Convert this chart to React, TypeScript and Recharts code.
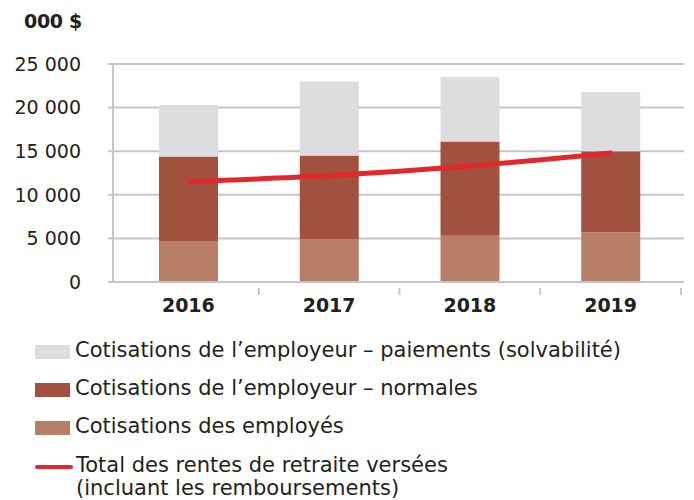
import React from 'react';
import { ComposedChart, Bar, Line, XAxis, YAxis, CartesianGrid } from 'recharts';

const years = ['2016', '2017', '2018', '2019'];
const employes = [4700, 4900, 5300, 5700];
const normales = [9700, 9600, 10800, 9300];
const solvabilite = [5900, 8500, 7400, 6800];
const rentes = [11500, 12200, 13300, 14800];
const yTicks = [0, 5000, 10000, 15000, 20000, 25000];

const legendItems = [
  { label: 'Cotisations de l\u2019employeur \u2013 paiements (solvabilit\u00e9)', color: '#dcdddf', kind: 'box' },
  { label: 'Cotisations de l\u2019employeur \u2013 normales', color: '#a0523f', kind: 'box' },
  { label: 'Cotisations des employ\u00e9s', color: '#b97f66', kind: 'box' },
  { label: 'Total des rentes de retraite vers\u00e9es\n(incluant les remboursements)', color: '#e1282b', kind: 'line' },
];

const data = years.map((y, i) => ({
  year: y,
  employes: employes[i],
  normales: normales[i],
  solvabilite: solvabilite[i],
  rentes: rentes[i],
}));

const GRID = '#c5c6c9';
const TEXT = '#231f20';
const NUM_FONT = '"DejaVu Sans", sans-serif';
const LEG_FONT = '"DejaVu Sans", sans-serif';

const fmt = (v: number) => String(v).replace(/\B(?=(\d{3})+(?!\d))/g, ' ');

const XTick = (props: any) => {
  const { x, y, payload } = props;
  const off = payload && payload.offset ? payload.offset : 0;
  return (
    <g>
      <line x1={x + off} x2={x + off} y1={y - 2} y2={y + 5} stroke={GRID} strokeWidth={2} />
      <text x={x} y={y + 22} textAnchor="middle" fontFamily={NUM_FONT} fontWeight={700} fontSize={19} fill={TEXT}>
        {payload.value}
      </text>
    </g>
  );
};

export default function App() {
  return (
    <div style={{ position: 'absolute', left: 0, top: 0, width: 694, height: 500, background: '#fff' }}>
      <div
        style={{
          position: 'absolute',
          left: 24,
          top: 10,
          fontFamily: NUM_FONT,
          fontWeight: 900,
          fontSize: 19,
          color: TEXT,
          letterSpacing: -0.3,
        }}
      >
        000 $
      </div>
      <ComposedChart width={694} height={320} data={data} margin={{ top: 64, right: 10, bottom: 0, left: 0 }}>
        <CartesianGrid vertical={false} stroke={GRID} strokeWidth={2} />
        <XAxis
          dataKey="year"
          height={38}
          padding={{ left: 5, right: 3 }}
          axisLine={{ stroke: GRID, strokeWidth: 2 }}
          tickLine={false}
          tick={<XTick />}
          interval={0}
        />
        <YAxis
          width={113}
          domain={[0, 25000]}
          ticks={yTicks}
          tickFormatter={fmt}
          tickSize={5}
          tickMargin={27}
          axisLine={{ stroke: GRID, strokeWidth: 2 }}
          tickLine={{ stroke: GRID, strokeWidth: 2 }}
          tick={{ fill: TEXT, fontSize: 19, fontFamily: NUM_FONT }}
        />
        <Bar dataKey="employes" stackId="a" fill="#b97f66" barSize={59} isAnimationActive={false} />
        <Bar dataKey="normales" stackId="a" fill="#a0523f" barSize={59} isAnimationActive={false} />
        <Bar dataKey="solvabilite" stackId="a" fill="#dcdddf" barSize={59} isAnimationActive={false} />
        <Line
          dataKey="rentes"
          type="monotone"
          stroke="#e1282b"
          strokeWidth={5}
          strokeLinecap="round"
          dot={false}
          isAnimationActive={false}
        />
      </ComposedChart>
      {legendItems.map((it, i) => {
        const tops = [339, 377, 415, 454];
        return (
          <div
            key={i}
            style={{
              position: 'absolute',
              left: 35,
              top: tops[i],
              display: 'flex',
              alignItems: 'flex-start',
              fontFamily: LEG_FONT,
              fontSize: 21,
              color: TEXT,
              lineHeight: '23px',
            }}
          >
            {it.kind === 'box' ? (
              <div style={{ width: 35, height: 14, background: it.color, marginTop: 6, marginRight: 5 }} />
            ) : (
              <div style={{ width: 38, height: 4, background: it.color, borderRadius: 2, marginTop: 11, marginRight: 3 }} />
            )}
            <div style={{ whiteSpace: 'pre' }}>{it.label}</div>
          </div>
        );
      })}
    </div>
  );
}
